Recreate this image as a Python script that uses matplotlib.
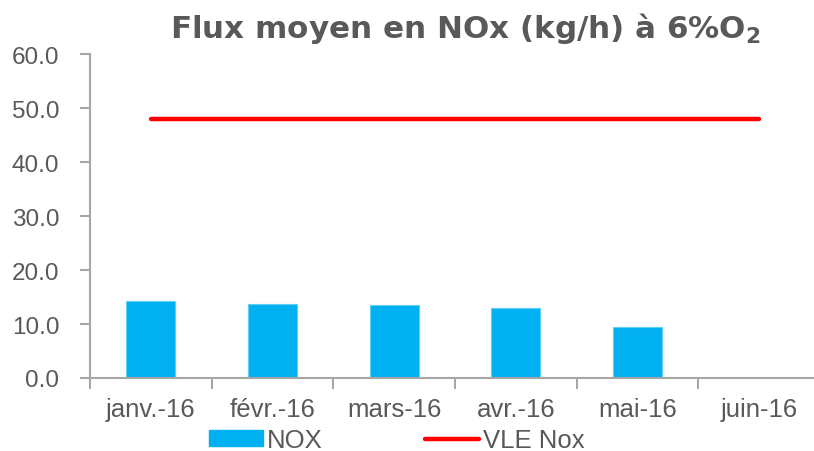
import matplotlib
matplotlib.use("Agg")
import matplotlib.pyplot as plt
from matplotlib.patches import Patch
from matplotlib.lines import Line2D

categories = ["janv.-16", "févr.-16", "mars-16", "avr.-16", "mai-16", "juin-16"]
nox = [14.2, 13.65, 13.5, 12.9, 9.4, 0.0]
vle = [48.0, 48.0, 48.0, 48.0, 48.0, 48.0]
yticks = [0, 10, 20, 30, 40, 50, 60]

plt.rcParams['font.family'] = ['Liberation Sans', 'DejaVu Sans']
plt.rcParams['mathtext.fontset'] = 'custom'
plt.rcParams['mathtext.rm'] = 'DejaVu Sans'
plt.rcParams['mathtext.bf'] = 'DejaVu Sans:bold'

gray = '#595959'
spine = '#a6a6a6'
blue = '#00b0f0'
red = '#ff0000'

fig = plt.figure(figsize=(8.14, 4.52), dpi=100)
ax = fig.add_axes([90/814, 1-379/452, (820-90)/814, (379-55)/452])

x = list(range(len(categories)))
ax.bar(x, nox, width=0.4, color=blue, edgecolor='#5fd0f5', linewidth=0.8, zorder=2)
ax.plot(x, vle, color=red, linewidth=3.2, solid_capstyle='round', zorder=3)

ax.set_xlim(-0.5, len(categories) - 0.5)
ax.set_ylim(0, 60)
ax.set_yticks(yticks)
ax.set_yticklabels([f"{v:.1f}" for v in yticks])
ax.set_xticks([i + 0.5 for i in range(-1, len(categories))], minor=False)
ax.set_xticklabels([])
ax.set_xticks(x, minor=True)
ax.set_xticklabels(categories, minor=True)
ax.tick_params(axis='x', which='minor', length=0, pad=14, labelsize=18.5, labelcolor=gray)
ax.tick_params(axis='x', which='major', length=8, width=1.5, color=spine, direction='out')
ax.tick_params(axis='y', length=7, width=1.5, color=spine, direction='out', pad=15,
               labelsize=17.5, labelcolor=gray)

for s in ['top', 'right']:
    ax.spines[s].set_visible(False)
for s in ['left', 'bottom']:
    ax.spines[s].set_color(spine)
    ax.spines[s].set_linewidth(1.5)

fig.text(465/814, 1-28/452, r"Flux moyen en NOx (kg/h) à 6%O$_\mathbf{2}$",
         ha='center', va='center', fontsize=22.3, fontweight='bold', color=gray,
         family='DejaVu Sans')

handles = [Patch(facecolor=blue, edgecolor=blue), Line2D([0], [0], color=red, linewidth=3.2, solid_capstyle='round')]
leg = fig.legend(handles, ["NOX", "VLE Nox"], ncol=2, loc='center',
                 bbox_to_anchor=(397/814, 1-441/452), frameon=False,
                 fontsize=18.5, handlelength=2.1, handleheight=0.55, handletextpad=0.15,
                 columnspacing=4.0, labelcolor=gray)

fig.savefig("out.png", dpi=100)
